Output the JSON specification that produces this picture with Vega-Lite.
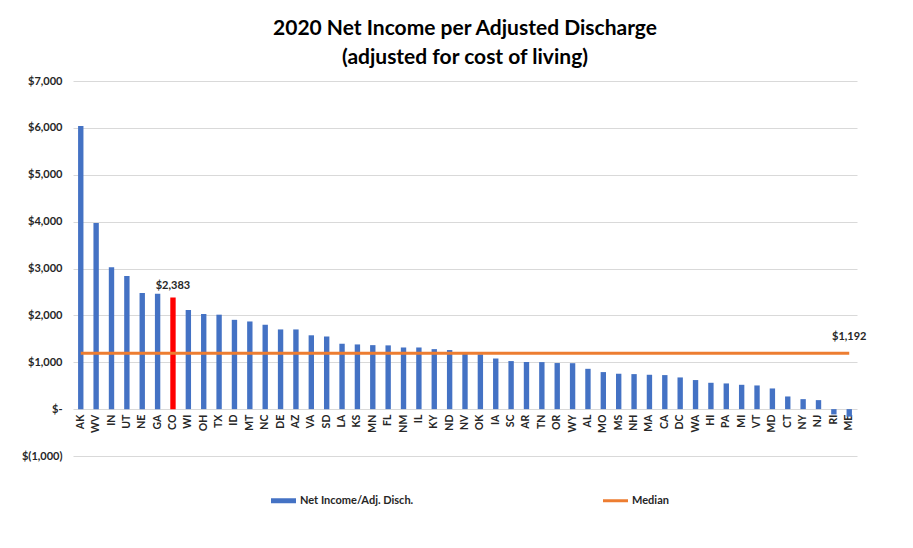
{
  "$schema": "https://vega.github.io/schema/vega-lite/v6.json",
  "width": 784,
  "height": 375,
  "autosize": {"type": "none"},
  "padding": {"left": 73, "top": 81, "right": 56, "bottom": 92},
  "background": "white",
  "title": {
    "text": ["2020 Net Income per Adjusted Discharge", "(adjusted for cost of living)"],
    "font": "Lato",
    "fontSize": 21,
    "fontWeight": "bold",
    "lineHeight": 29,
    "color": "#000000",
    "offset": 7,
    "anchor": "middle"
  },
  "config": {"view": {"stroke": null}, "font": "Lato"},
  "data": {
    "values": [
      {"state": "AK", "value": 6040, "series": "Net Income/Adj. Disch.", "median": 1192},
      {"state": "WV", "value": 3970, "series": "Net Income/Adj. Disch.", "median": 1192},
      {"state": "IN", "value": 3025, "series": "Net Income/Adj. Disch.", "median": 1192},
      {"state": "UT", "value": 2840, "series": "Net Income/Adj. Disch.", "median": 1192},
      {"state": "NE", "value": 2475, "series": "Net Income/Adj. Disch.", "median": 1192},
      {"state": "GA", "value": 2460, "series": "Net Income/Adj. Disch.", "median": 1192},
      {"state": "CO", "value": 2383, "series": "Net Income/Adj. Disch.", "median": 1192},
      {"state": "WI", "value": 2115, "series": "Net Income/Adj. Disch.", "median": 1192},
      {"state": "OH", "value": 2030, "series": "Net Income/Adj. Disch.", "median": 1192},
      {"state": "TX", "value": 2015, "series": "Net Income/Adj. Disch.", "median": 1192},
      {"state": "ID", "value": 1905, "series": "Net Income/Adj. Disch.", "median": 1192},
      {"state": "MT", "value": 1870, "series": "Net Income/Adj. Disch.", "median": 1192},
      {"state": "NC", "value": 1800, "series": "Net Income/Adj. Disch.", "median": 1192},
      {"state": "DE", "value": 1700, "series": "Net Income/Adj. Disch.", "median": 1192},
      {"state": "AZ", "value": 1700, "series": "Net Income/Adj. Disch.", "median": 1192},
      {"state": "VA", "value": 1575, "series": "Net Income/Adj. Disch.", "median": 1192},
      {"state": "SD", "value": 1550, "series": "Net Income/Adj. Disch.", "median": 1192},
      {"state": "LA", "value": 1395, "series": "Net Income/Adj. Disch.", "median": 1192},
      {"state": "KS", "value": 1380, "series": "Net Income/Adj. Disch.", "median": 1192},
      {"state": "MN", "value": 1365, "series": "Net Income/Adj. Disch.", "median": 1192},
      {"state": "FL", "value": 1360, "series": "Net Income/Adj. Disch.", "median": 1192},
      {"state": "NM", "value": 1315, "series": "Net Income/Adj. Disch.", "median": 1192},
      {"state": "IL", "value": 1315, "series": "Net Income/Adj. Disch.", "median": 1192},
      {"state": "KY", "value": 1280, "series": "Net Income/Adj. Disch.", "median": 1192},
      {"state": "ND", "value": 1260, "series": "Net Income/Adj. Disch.", "median": 1192},
      {"state": "NV", "value": 1192, "series": "Net Income/Adj. Disch.", "median": 1192},
      {"state": "OK", "value": 1170, "series": "Net Income/Adj. Disch.", "median": 1192},
      {"state": "IA", "value": 1080, "series": "Net Income/Adj. Disch.", "median": 1192},
      {"state": "SC", "value": 1025, "series": "Net Income/Adj. Disch.", "median": 1192},
      {"state": "AR", "value": 1005, "series": "Net Income/Adj. Disch.", "median": 1192},
      {"state": "TN", "value": 1003, "series": "Net Income/Adj. Disch.", "median": 1192},
      {"state": "OR", "value": 983, "series": "Net Income/Adj. Disch.", "median": 1192},
      {"state": "WY", "value": 980, "series": "Net Income/Adj. Disch.", "median": 1192},
      {"state": "AL", "value": 860, "series": "Net Income/Adj. Disch.", "median": 1192},
      {"state": "MO", "value": 790, "series": "Net Income/Adj. Disch.", "median": 1192},
      {"state": "MS", "value": 755, "series": "Net Income/Adj. Disch.", "median": 1192},
      {"state": "NH", "value": 747, "series": "Net Income/Adj. Disch.", "median": 1192},
      {"state": "MA", "value": 733, "series": "Net Income/Adj. Disch.", "median": 1192},
      {"state": "CA", "value": 726, "series": "Net Income/Adj. Disch.", "median": 1192},
      {"state": "DC", "value": 676, "series": "Net Income/Adj. Disch.", "median": 1192},
      {"state": "WA", "value": 620, "series": "Net Income/Adj. Disch.", "median": 1192},
      {"state": "HI", "value": 562, "series": "Net Income/Adj. Disch.", "median": 1192},
      {"state": "PA", "value": 548, "series": "Net Income/Adj. Disch.", "median": 1192},
      {"state": "MI", "value": 519, "series": "Net Income/Adj. Disch.", "median": 1192},
      {"state": "VT", "value": 505, "series": "Net Income/Adj. Disch.", "median": 1192},
      {"state": "MD", "value": 441, "series": "Net Income/Adj. Disch.", "median": 1192},
      {"state": "CT", "value": 270, "series": "Net Income/Adj. Disch.", "median": 1192},
      {"state": "NY", "value": 213, "series": "Net Income/Adj. Disch.", "median": 1192},
      {"state": "NJ", "value": 192, "series": "Net Income/Adj. Disch.", "median": 1192},
      {"state": "RI", "value": -113, "series": "Net Income/Adj. Disch.", "median": 1192},
      {"state": "ME", "value": -160, "series": "Net Income/Adj. Disch.", "median": 1192}
    ]
  },
  "encoding": {
    "x": {
      "field": "state",
      "type": "nominal",
      "sort": null,
      "scale": {"paddingInner": 0.65, "paddingOuter": 0.33},
      "axis": {
        "title": null,
        "labelAngle": -90,
        "labelAlign": "right",
        "labelBaseline": "middle",
        "offset": -46.875,
        "domain": false,
        "ticks": false,
        "labelFontSize": 10.5,
        "labelFontWeight": "bold",
        "labelColor": "#262626",
        "labelPadding": 5
      }
    }
  },
  "layer": [
    {
      "mark": {"type": "bar"},
      "encoding": {
        "y": {
          "field": "value",
          "type": "quantitative",
          "scale": {"domain": [-1000, 7000], "nice": false, "zero": false},
          "axis": {
            "title": null,
            "values": [-1000, 0, 1000, 2000, 3000, 4000, 5000, 6000, 7000],
            "labelExpr": "datum.value == 0 ? '$-' : (datum.value < 0 ? '$(' + format(-datum.value, ',') + ')' : '$' + format(datum.value, ','))",
            "domain": false,
            "ticks": false,
            "gridColor": "#d9d9d9",
            "gridWidth": 1,
            "labelFontSize": 11,
            "labelFontWeight": "bold",
            "labelColor": "#262626",
            "labelPadding": 11
          }
        },
        "color": {
          "condition": {"test": "datum.state === 'CO'", "value": "#FF0000"},
          "field": "series",
          "type": "nominal",
          "scale": {"domain": ["Net Income/Adj. Disch.", "Median"], "range": ["#4472C4", "#ED7D31"]},
          "legend": {
            "title": null,
            "orient": "none",
            "legendX": 198,
            "legendY": 407,
            "direction": "horizontal",
            "columnPadding": 189,
            "symbolSize": 625,
            "symbolStrokeWidth": 0,
            "labelFontSize": 11,
            "labelFontWeight": "bold",
            "labelColor": "#262626",
            "encode": {
              "symbols": {
                "update": {
                  "shape": [
                    {"test": "datum.value === 'Median'", "value": "M-1,-0.12H1V0.12H-1Z"},
                    {"value": "M-1,-0.2H1V0.2H-1Z"}
                  ],
                  "fill": {"scale": "color", "field": "value"},
                  "strokeWidth": {"value": 0}
                }
              }
            }
          }
        }
      }
    },
    {
      "mark": {"type": "line", "strokeWidth": 3},
      "encoding": {
        "y": {"field": "median", "type": "quantitative"},
        "color": {"datum": "Median"}
      }
    },
    {
      "transform": [{"filter": "datum.state === 'CO'"}],
      "mark": {"type": "text", "dy": -11, "fontSize": 11, "fontWeight": "bold", "color": "#262626"},
      "encoding": {
        "y": {"field": "value", "type": "quantitative"},
        "text": {"field": "value", "type": "quantitative", "format": "$,.0f"}
      }
    },
    {
      "transform": [{"filter": "datum.state === 'ME'"}],
      "mark": {"type": "text", "dy": -16, "fontSize": 11, "fontWeight": "bold", "color": "#262626"},
      "encoding": {
        "y": {"field": "median", "type": "quantitative"},
        "text": {"field": "median", "type": "quantitative", "format": "$,.0f"}
      }
    }
  ]
}
